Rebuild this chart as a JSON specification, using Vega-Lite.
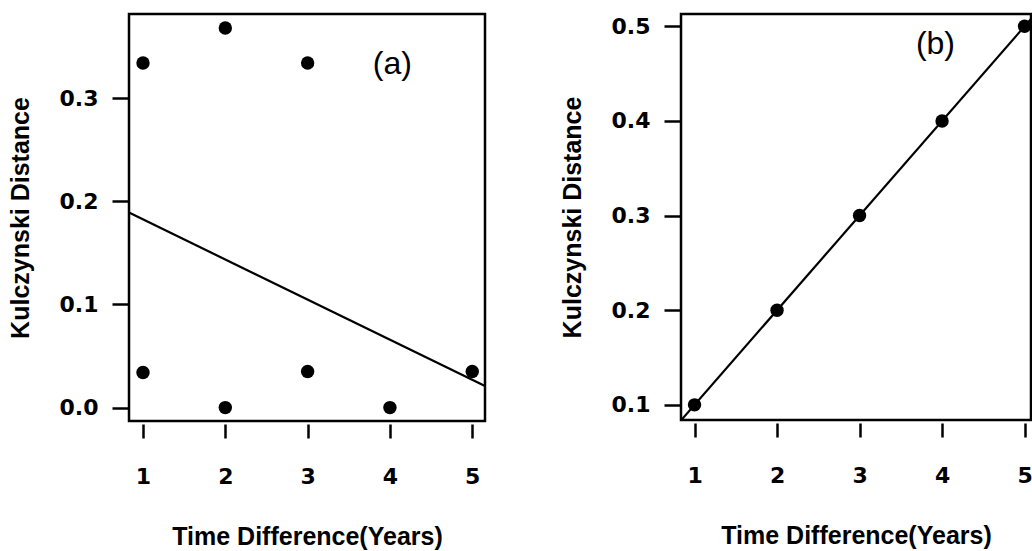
{
  "$schema": "https://vega.github.io/schema/vega-lite/v6.json",
  "background": "white",
  "padding": {"left": 6, "top": 12, "right": 0, "bottom": 0},
  "spacing": 71,
  "config": {
    "view": {"stroke": "black", "strokeWidth": 2.5},
    "axis": {
      "grid": false,
      "domain": false,
      "tickColor": "black",
      "tickWidth": 2.5,
      "labelColor": "black",
      "titleColor": "black",
      "labelFont": "DejaVu Sans",
      "labelFontWeight": "bold",
      "labelFontSize": 22,
      "labelFlush": false,
      "labelOverlap": false,
      "titleFont": "Liberation Sans",
      "titleFontWeight": "bold",
      "titleFontSize": 25
    },
    "axisY": {"tickSize": 17, "labelPadding": 14, "minExtent": 71, "maxExtent": 71, "titlePadding": 25},
    "axisX": {"tickSize": 14, "offset": 3, "labelPadding": 28, "titlePadding": 37}
  },
  "datasets": {
    "a_pts": [
      {"t": 1, "d": 0.334},
      {"t": 2, "d": 0.368},
      {"t": 3, "d": 0.334},
      {"t": 1, "d": 0.034},
      {"t": 2, "d": 0.0},
      {"t": 3, "d": 0.035},
      {"t": 4, "d": 0.0},
      {"t": 5, "d": 0.035}
    ],
    "a_line": [
      {"t": 0.83, "d": 0.189},
      {"t": 5.155, "d": 0.021}
    ],
    "a_lab": [{"t": 4.03, "d": 0.333, "label": "(a)"}],
    "b_pts": [
      {"t": 1, "d": 0.1},
      {"t": 2, "d": 0.2},
      {"t": 3, "d": 0.3},
      {"t": 4, "d": 0.4},
      {"t": 5, "d": 0.5}
    ],
    "b_line": [
      {"t": 0.8, "d": 0.08},
      {"t": 5.2, "d": 0.52}
    ],
    "b_lab": [{"t": 3.92, "d": 0.481, "label": "(b)"}]
  },
  "hconcat": [
    {
      "width": 356,
      "height": 407,
      "encoding": {
        "x": {
          "field": "t", "type": "quantitative",
          "scale": {"domain": [0.83, 5.155], "nice": false, "zero": false},
          "axis": {"values": [1, 2, 3, 4, 5], "format": "d"},
          "title": "Time Difference(Years)"
        },
        "y": {
          "field": "d", "type": "quantitative",
          "scale": {"domain": [-0.013, 0.3815], "nice": false, "zero": false},
          "axis": {"values": [0, 0.1, 0.2, 0.3], "format": ".1f"},
          "title": "Kulczynski Distance"
        }
      },
      "layer": [
        {
          "data": {"name": "a_line"},
          "mark": {"type": "line", "color": "black", "strokeWidth": 2.2, "clip": true}
        },
        {
          "data": {"name": "a_pts"},
          "mark": {"type": "point", "shape": "circle", "filled": true, "color": "black", "opacity": 1, "size": 180}
        },
        {
          "data": {"name": "a_lab"},
          "mark": {"type": "text", "font": "Liberation Sans", "fontSize": 32, "color": "black", "align": "center", "baseline": "middle"},
          "encoding": {"text": {"field": "label"}}
        }
      ]
    },
    {
      "width": 350,
      "height": 406,
      "encoding": {
        "x": {
          "field": "t", "type": "quantitative",
          "scale": {"domain": [0.836, 5.078], "nice": false, "zero": false},
          "axis": {"values": [1, 2, 3, 4, 5], "format": "d"},
          "title": "Time Difference(Years)"
        },
        "y": {
          "field": "d", "type": "quantitative",
          "scale": {"domain": [0.084, 0.513], "nice": false, "zero": false},
          "axis": {"values": [0.1, 0.2, 0.3, 0.4, 0.5], "format": ".1f"},
          "title": "Kulczynski Distance"
        }
      },
      "layer": [
        {
          "data": {"name": "b_line"},
          "mark": {"type": "line", "color": "black", "strokeWidth": 2.2, "clip": true}
        },
        {
          "data": {"name": "b_pts"},
          "mark": {"type": "point", "shape": "circle", "filled": true, "color": "black", "opacity": 1, "size": 180}
        },
        {
          "data": {"name": "b_lab"},
          "mark": {"type": "text", "font": "Liberation Sans", "fontSize": 32, "color": "black", "align": "center", "baseline": "middle"},
          "encoding": {"text": {"field": "label"}}
        }
      ]
    }
  ]
}
